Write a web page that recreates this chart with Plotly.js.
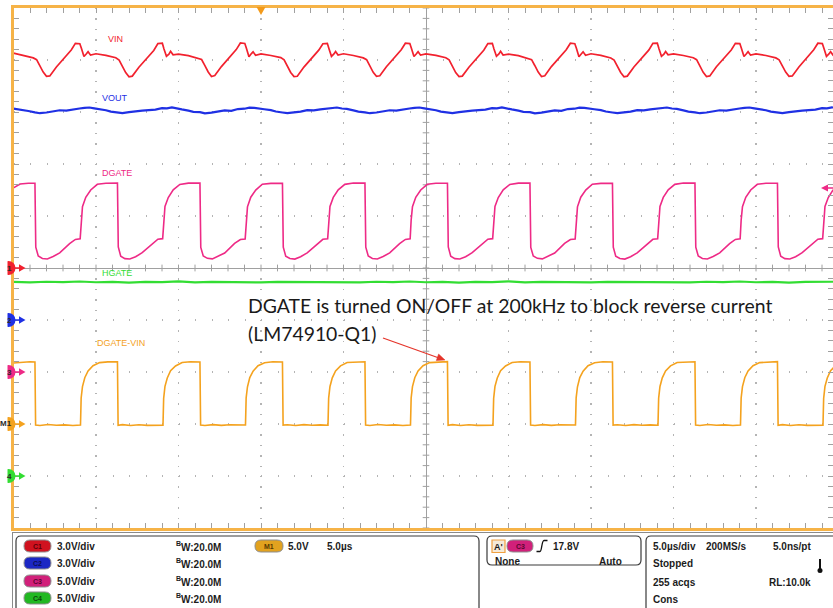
<!DOCTYPE html>
<html>
<head>
<meta charset="utf-8">
<script src="https://cdn.plot.ly/plotly-3.0.1.min.js"></script>
<style>html,body{margin:0;padding:0;background:#fff}#chart{width:833px;height:608px}</style>
</head>
<body>
<div id="chart"></div>
<script>
// ---------------- DATA (time in µs, values in volts) ----------------
const vinTime = [
-25.00,-24.40,
-23.80,-23.60,-23.40,-23.20,-23.00,-22.80,-22.40,-21.90,-21.50,-21.25,-20.98,-20.88,-20.73,-20.58,-20.48,-20.33,-20.00,-19.40,
-18.80,-18.60,-18.40,-18.20,-18.00,-17.80,-17.40,-16.90,-16.50,-16.25,-15.98,-15.88,-15.73,-15.58,-15.48,-15.33,-15.00,-14.40,
-13.80,-13.60,-13.40,-13.20,-13.00,-12.80,-12.40,-11.90,-11.50,-11.25,-10.98,-10.88,-10.73,-10.58,-10.48,-10.33,-10.00,-9.40,
-8.80,-8.60,-8.40,-8.20,-8.00,-7.80,-7.40,-6.90,-6.50,-6.25,-5.98,-5.88,-5.73,-5.58,-5.48,-5.33,-5.00,-4.40,
-3.80,-3.60,-3.40,-3.20,-3.00,-2.80,-2.40,-1.90,-1.50,-1.25,-0.98,-0.88,-0.73,-0.58,-0.48,-0.33,0.00,0.60,
1.20,1.40,1.60,1.80,2.00,2.20,2.60,3.10,3.50,3.75,4.02,4.12,4.27,4.42,4.52,4.67,5.00,5.60,
6.20,6.40,6.60,6.80,7.00,7.20,7.60,8.10,8.50,8.75,9.02,9.12,9.27,9.42,9.52,9.67,10.00,10.60,
11.20,11.40,11.60,11.80,12.00,12.20,12.60,13.10,13.50,13.75,14.02,14.12,14.27,14.42,14.52,14.67,15.00,15.60,
16.20,16.40,16.60,16.80,17.00,17.20,17.60,18.10,18.50,18.75,19.02,19.12,19.27,19.42,19.52,19.67,20.00,20.60,
21.20,21.40,21.60,21.80,22.00,22.20,22.60,23.10,23.50,23.75,24.02,24.12,24.27,24.42,24.52,24.67,24.80];
const vinVolts = [
12.40,12.28,
12.12,12.02,11.66,11.30,11.06,11.08,11.60,12.12,12.58,12.96,12.94,12.66,12.20,12.36,12.48,12.28,12.36,12.27,
12.13,12.00,11.62,11.27,11.03,11.07,11.58,12.10,12.55,12.95,12.97,12.64,12.22,12.34,12.50,12.30,12.34,12.25,
12.11,12.03,11.68,11.31,11.05,11.10,11.62,12.14,12.60,12.98,12.95,12.67,12.19,12.37,12.47,12.27,12.35,12.26,
12.14,12.01,11.64,11.28,11.04,11.06,11.59,12.11,12.57,12.94,12.96,12.65,12.21,12.35,12.49,12.29,12.36,12.26,
12.12,12.02,11.66,11.29,11.06,11.09,11.61,12.13,12.59,12.97,12.95,12.66,12.20,12.36,12.48,12.28,12.35,12.27,
12.13,12.01,11.63,11.27,11.04,11.07,11.58,12.10,12.56,12.95,12.96,12.64,12.22,12.35,12.50,12.29,12.34,12.25,
12.11,12.02,11.67,11.30,11.05,11.09,11.62,12.13,12.59,12.97,12.94,12.67,12.19,12.36,12.47,12.27,12.36,12.27,
12.12,12.00,11.64,11.28,11.03,11.07,11.60,12.12,12.57,12.96,12.97,12.65,12.21,12.34,12.49,12.30,12.35,12.26,
12.13,12.02,11.65,11.29,11.05,11.08,11.61,12.12,12.58,12.96,12.95,12.66,12.20,12.36,12.48,12.28,12.35,12.26,
12.12,12.01,11.66,11.30,11.06,11.08,11.60,12.13,12.59,12.97,12.95,12.66,12.21,12.35,12.48,12.28,12.32];

const voutTime = [
-25.00,-24.60,-24.10,
-23.70,-23.40,-23.00,-22.60,-22.20,-21.80,-21.40,-21.00,-20.70,-20.40,-20.10,-19.80,-19.40,-19.10,
-18.70,-18.40,-18.00,-17.60,-17.20,-16.80,-16.40,-16.00,-15.70,-15.40,-15.10,-14.80,-14.40,-14.10,
-13.70,-13.40,-13.00,-12.60,-12.20,-11.80,-11.40,-11.00,-10.70,-10.40,-10.10,-9.80,-9.40,-9.10,
-8.70,-8.40,-8.00,-7.60,-7.20,-6.80,-6.40,-6.00,-5.70,-5.40,-5.10,-4.80,-4.40,-4.10,
-3.70,-3.40,-3.00,-2.60,-2.20,-1.80,-1.40,-1.00,-0.70,-0.40,-0.10,0.20,0.60,0.90,
1.30,1.60,2.00,2.40,2.80,3.20,3.60,4.00,4.30,4.60,4.90,5.20,5.60,5.90,
6.30,6.60,7.00,7.40,7.80,8.20,8.60,9.00,9.30,9.60,9.90,10.20,10.60,10.90,
11.30,11.60,12.00,12.40,12.80,13.20,13.60,14.00,14.30,14.60,14.90,15.20,15.60,15.90,
16.30,16.60,17.00,17.40,17.80,18.20,18.60,19.00,19.30,19.60,19.90,20.20,20.60,20.90,
21.30,21.60,22.00,22.40,22.80,23.20,23.60,24.00,24.30,24.60,24.80];
const voutVolts = [
12.19,12.15,12.06,
11.98,11.93,11.97,12.03,12.10,12.08,12.16,12.20,12.24,12.26,12.21,12.17,12.10,12.02,
11.96,11.94,11.99,12.05,12.08,12.11,12.14,12.22,12.21,12.27,12.19,12.15,12.08,12.01,
11.99,11.92,11.96,12.04,12.09,12.07,12.17,12.19,12.25,12.24,12.22,12.16,12.11,12.03,
11.97,11.93,11.98,12.02,12.11,12.09,12.15,12.21,12.23,12.26,12.20,12.18,12.09,12.02,
11.98,11.93,11.97,12.03,12.10,12.08,12.16,12.20,12.24,12.26,12.21,12.17,12.10,12.02,
11.96,11.94,11.99,12.05,12.08,12.11,12.14,12.22,12.21,12.27,12.19,12.15,12.08,12.01,
11.99,11.92,11.96,12.04,12.09,12.07,12.17,12.19,12.25,12.24,12.22,12.16,12.11,12.03,
11.97,11.93,11.98,12.02,12.11,12.09,12.15,12.21,12.23,12.26,12.20,12.18,12.09,12.02,
11.98,11.93,11.97,12.03,12.10,12.08,12.16,12.20,12.24,12.26,12.21,12.17,12.10,12.02,
11.96,11.94,11.99,12.05,12.08,12.11,12.14,12.22,12.21,12.27,12.24];

const dgateTime = [
-25.00,-24.60,-24.10,
-23.70,-23.65,-23.50,-23.25,-22.95,-22.60,-22.20,-21.60,-21.25,-20.96,-20.90,-20.82,-20.62,-20.32,-19.92,-19.40,
-18.70,-18.65,-18.50,-18.25,-17.95,-17.60,-17.20,-16.60,-16.25,-15.96,-15.90,-15.82,-15.62,-15.32,-14.92,-14.40,
-13.70,-13.65,-13.50,-13.25,-12.95,-12.60,-12.20,-11.60,-11.25,-10.96,-10.90,-10.82,-10.62,-10.32,-9.92,-9.40,
-8.70,-8.65,-8.50,-8.25,-7.95,-7.60,-7.20,-6.60,-6.25,-5.96,-5.90,-5.82,-5.62,-5.32,-4.92,-4.40,
-3.70,-3.65,-3.50,-3.25,-2.95,-2.60,-2.20,-1.60,-1.25,-0.96,-0.90,-0.82,-0.62,-0.32,0.08,0.60,
1.30,1.35,1.50,1.75,2.05,2.40,2.80,3.40,3.75,4.04,4.10,4.18,4.38,4.68,5.08,5.60,
6.30,6.35,6.50,6.75,7.05,7.40,7.80,8.40,8.75,9.04,9.10,9.18,9.38,9.68,10.08,10.60,
11.30,11.35,11.50,11.75,12.05,12.40,12.80,13.40,13.75,14.04,14.10,14.18,14.38,14.68,15.08,15.60,
16.30,16.35,16.50,16.75,17.05,17.40,17.80,18.40,18.75,19.04,19.10,19.18,19.38,19.68,20.08,20.60,
21.30,21.35,21.50,21.75,22.05,22.40,22.80,23.40,23.75,24.04,24.10,24.18,24.38,24.68];
const dgateVolts = [
17.70,18.08,18.15,
18.15,12.00,11.15,10.92,10.87,11.10,11.45,12.35,12.75,12.80,14.60,15.90,16.80,17.50,18.05,18.15,
18.17,12.02,11.13,10.90,10.86,11.08,11.47,12.33,12.77,12.82,14.55,15.92,16.78,17.52,18.03,18.16,
18.16,11.98,11.16,10.93,10.88,11.11,11.44,12.36,12.74,12.79,14.62,15.88,16.81,17.49,18.06,18.14,
18.15,12.01,11.14,10.91,10.86,11.09,11.46,12.34,12.76,12.81,14.58,15.91,16.79,17.51,18.04,18.17,
18.16,12.00,11.15,10.92,10.87,11.10,11.45,12.35,12.75,12.80,14.60,15.90,16.80,17.50,18.05,18.15,
18.15,12.02,11.13,10.90,10.86,11.08,11.47,12.33,12.77,12.82,14.55,15.92,16.78,17.52,18.03,18.16,
18.16,11.98,11.16,10.93,10.88,11.11,11.44,12.36,12.74,12.79,14.62,15.88,16.81,17.49,18.06,18.14,
18.15,12.01,11.14,10.91,10.86,11.09,11.46,12.34,12.76,12.81,14.58,15.91,16.79,17.51,18.04,18.17,
18.16,12.00,11.15,10.92,10.87,11.10,11.45,12.35,12.75,12.80,14.60,15.90,16.80,17.50,18.05,18.15,
18.15,12.02,11.13,10.90,10.86,11.08,11.47,12.33,12.77,12.82,14.55,15.92,16.78,17.52];

const hgateTime = [-25,-24,-23,-22,-21,-20,-19,-18,-17,-16,-15,-14,-13,-12,-11,-10,-9,-8,-7,-6,-5,-4,-3,-2,-1,
0,1,2,3,4,5,6,7,8,9,10,11,12,13,14,15,16,17,18,19,20,21,22,23,24,24.7];
const hgateVolts = [18.66,18.62,18.68,18.64,18.70,18.63,18.66,18.60,18.67,18.65,18.71,18.62,18.66,18.64,18.69,18.61,18.67,18.65,18.70,18.63,18.66,18.62,18.68,18.64,18.70,
18.63,18.66,18.60,18.67,18.65,18.71,18.62,18.66,18.64,18.69,18.61,18.67,18.65,18.70,18.63,18.66,18.62,18.68,18.64,18.70,18.63,18.66,18.60,18.67,18.65,18.68];

const mathTime = [
-25.00,-24.50,-24.00,
-23.70,-23.66,-23.40,-22.90,-22.40,-21.90,-21.40,-20.94,-20.90,-20.82,-20.68,-20.48,-20.18,-19.78,-19.28,
-18.70,-18.66,-18.40,-17.90,-17.40,-16.90,-16.40,-15.94,-15.90,-15.82,-15.68,-15.48,-15.18,-14.78,-14.28,
-13.70,-13.66,-13.40,-12.90,-12.40,-11.90,-11.40,-10.94,-10.90,-10.82,-10.68,-10.48,-10.18,-9.78,-9.28,
-8.70,-8.66,-8.40,-7.90,-7.40,-6.90,-6.40,-5.94,-5.90,-5.82,-5.68,-5.48,-5.18,-4.78,-4.28,
-3.70,-3.66,-3.40,-2.90,-2.40,-1.90,-1.40,-0.94,-0.90,-0.82,-0.68,-0.48,-0.18,0.22,0.72,
1.30,1.34,1.60,2.10,2.60,3.10,3.60,4.06,4.10,4.18,4.32,4.52,4.82,5.22,5.72,
6.30,6.34,6.60,7.10,7.60,8.10,8.60,9.06,9.10,9.18,9.32,9.52,9.82,10.22,10.72,
11.30,11.34,11.60,12.10,12.60,13.10,13.60,14.06,14.10,14.18,14.32,14.52,14.82,15.22,15.72,
16.30,16.34,16.60,17.10,17.60,18.10,18.60,19.06,19.10,19.18,19.32,19.52,19.82,20.22,20.72,
21.30,21.34,21.60,22.10,22.60,23.10,23.60,24.06,24.10,24.18,24.32,24.52,24.72];
const mathVolts = [
5.87,5.95,5.98,
5.96,-0.10,-0.15,-0.05,-0.12,-0.08,-0.14,-0.10,2.50,3.60,4.45,5.10,5.60,5.90,5.97,
5.98,-0.12,-0.06,-0.14,-0.07,-0.13,-0.09,-0.11,2.45,3.62,4.43,5.12,5.58,5.91,5.99,
5.97,-0.09,-0.14,-0.06,-0.13,-0.07,-0.12,-0.10,2.52,3.58,4.47,5.08,5.61,5.89,5.98,
5.96,-0.11,-0.07,-0.15,-0.06,-0.12,-0.08,-0.12,2.48,3.61,4.44,5.11,5.59,5.92,5.97,
5.98,-0.10,-0.15,-0.05,-0.12,-0.08,-0.14,-0.10,2.50,3.60,4.45,5.10,5.60,5.90,5.97,
5.99,-0.12,-0.06,-0.14,-0.07,-0.13,-0.09,-0.11,2.45,3.62,4.43,5.12,5.58,5.91,5.99,
5.97,-0.09,-0.14,-0.06,-0.13,-0.07,-0.12,-0.10,2.52,3.58,4.47,5.08,5.61,5.89,5.98,
5.96,-0.11,-0.07,-0.15,-0.06,-0.12,-0.08,-0.12,2.48,3.61,4.44,5.11,5.59,5.92,5.97,
5.98,-0.10,-0.15,-0.05,-0.12,-0.08,-0.14,-0.10,2.50,3.60,4.45,5.10,5.60,5.90,5.97,
5.99,-0.12,-0.06,-0.14,-0.07,-0.13,-0.09,-0.11,2.45,3.62,4.43,5.12,5.45];

const traceNames = ['VIN','VOUT','DGATE','HGATE','DGATE-VIN'];
const noteLine1 = 'DGATE is turned ON/OFF at 200kHz to block reverse current';
const noteLine2 = '(LM74910-Q1)';
const chanTags = ['C1','C2','C3','C4'];
const chanScaleText = ['3.0V/div','3.0V/div','5.0V/div','5.0V/div'];
const bwText = ['W:20.0M','W:20.0M','W:20.0M','W:20.0M'];
const mathTag = 'M1', mathScaleText = '5.0V', mathTimeText = '5.0µs';
const trigText = ['17.8V','None','Auto'];
const acqText = ['5.0µs/div','200MS/s','5.0ns/pt','Stopped','255 acqs','RL:10.0k','Cons'];

// ---------------- SCOPE SETTINGS ----------------
const voltsPerDiv = {VIN:3, VOUT:3, DGATE:5, HGATE:5, MATH:5};
const groundDiv   = {VIN:0, VOUT:-1, DGATE:-2, HGATE:-4, MATH:-3};
const usPerDiv = 5;

// ---------------- STYLE / LAYOUT ----------------
const W = 833, H = 608;
const col = {VIN:'#f2212e', VOUT:'#1f30e4', DGATE:'#ee2a86', HGATE:'#33dd33', MATH:'#f4a21e'};
const chanRange = k => [(-5 - groundDiv[k]) * voltsPerDiv[k], (5 - groundDiv[k]) * voltsPerDiv[k]];
const PX = x => x / W, PY = y => 1 - y / H;
const P = (x, y) => (x / W).toFixed(5) + ',' + (1 - y / H).toFixed(5);
function rr(x0, y0, x1, y1, r) {
  return 'M' + P(x0 + r, y0) + ' L' + P(x1 - r, y0) + ' Q' + P(x1, y0) + ' ' + P(x1, y0 + r) +
    ' L' + P(x1, y1 - r) + ' Q' + P(x1, y1) + ' ' + P(x1 - r, y1) + ' L' + P(x0 + r, y1) +
    ' Q' + P(x0, y1) + ' ' + P(x0, y1 - r) + ' L' + P(x0, y0 + r) + ' Q' + P(x0, y0) + ' ' + P(x0 + r, y0) + ' Z';
}

const traces = [
  {x: [], y: [], xaxis: 'x', yaxis: 'y', type: 'scatter', mode: 'lines', hoverinfo: 'skip'},
  {x: vinTime, y: vinVolts, name: traceNames[0], xaxis: 'x', yaxis: 'y2', type: 'scatter', mode: 'lines', line: {color: col.VIN, width: 1.7}},
  {x: voutTime, y: voutVolts, name: traceNames[1], xaxis: 'x', yaxis: 'y3', type: 'scatter', mode: 'lines', line: {color: col.VOUT, width: 2.2}},
  {x: dgateTime, y: dgateVolts, name: traceNames[2], xaxis: 'x', yaxis: 'y4', type: 'scatter', mode: 'lines', line: {color: col.DGATE, width: 1.6}},
  {x: hgateTime, y: hgateVolts, name: traceNames[3], xaxis: 'x', yaxis: 'y5', type: 'scatter', mode: 'lines', line: {color: col.HGATE, width: 2.2}},
  {x: mathTime, y: mathVolts, name: traceNames[4], xaxis: 'x', yaxis: 'y6', type: 'scatter', mode: 'lines', line: {color: col.MATH, width: 1.6}}
];

const border = '#f6b347', tickC = '#a0a0a0', gridC = '#b4b4b4';
const hidden = {overlaying: 'y', visible: false, fixedrange: true};
const layout = {
  width: W, height: H, margin: {l: 0, r: 0, t: 0, b: 0},
  paper_bgcolor: '#ffffff', plot_bgcolor: '#ffffff', showlegend: false,
  font: {family: 'Liberation Sans, Arial, sans-serif', color: '#1a1a1a'},
  xaxis: {domain: [13.5 / W, 1], range: [-5 * usPerDiv, (833 - 426) / 16.5], fixedrange: true,
    showgrid: true, dtick: usPerDiv, tick0: 0, gridcolor: gridC, gridwidth: 1.4, griddash: '1.4px,9px',
    zeroline: true, zerolinecolor: tickC, zerolinewidth: 1,
    showline: true, linecolor: border, linewidth: 3, mirror: 'ticks',
    ticks: 'inside', ticklen: 5, tickcolor: tickC, tickwidth: 1, showticklabels: false,
    minor: {dtick: 1, tick0: 0, ticks: 'inside', ticklen: 5, tickcolor: tickC, tickwidth: 1, showgrid: false}},
  yaxis: {domain: [80 / H, 600 / H], range: [-5, 5], fixedrange: true,
    showgrid: true, dtick: 1, tick0: 0, gridcolor: gridC, gridwidth: 1.4, griddash: '1.4px,15.1px',
    zeroline: true, zerolinecolor: tickC, zerolinewidth: 1,
    showline: true, linecolor: border, linewidth: 3, mirror: 'ticks',
    ticks: 'inside', ticklen: 5, tickcolor: tickC, tickwidth: 1, showticklabels: false,
    minor: {dtick: 0.2, tick0: 0, ticks: 'inside', ticklen: 5, tickcolor: tickC, tickwidth: 1, showgrid: false}},
  yaxis2: Object.assign({range: chanRange('VIN')}, hidden),
  yaxis3: Object.assign({range: chanRange('VOUT')}, hidden),
  yaxis4: Object.assign({range: chanRange('DGATE')}, hidden),
  yaxis5: Object.assign({range: chanRange('HGATE')}, hidden),
  yaxis6: Object.assign({range: chanRange('MATH')}, hidden),
  shapes: [], annotations: []
};

const S = layout.shapes, A = layout.annotations;
// centre-cross tick marks
for (let i = 0; i <= 50; i++) {
  const d = -5 + 0.2 * i;
  S.push({type: 'line', xref: 'x', yref: 'y', x0: -0.2, x1: 0.2, y0: d, y1: d, line: {color: tickC, width: 1}, layer: 'between'});
}
for (let i = 0; i < 50; i++) {
  const t = -25 + i;
  S.push({type: 'line', xref: 'x', yref: 'y', x0: t, x1: t, y0: -0.065, y1: 0.065, line: {color: tickC, width: 1}, layer: 'between'});
}
// trigger position marker (top) and trigger level arrow (right)
S.push({type: 'path', xref: 'paper', yref: 'paper', path: 'M' + P(256.5, 7) + ' L' + P(265.5, 7) + ' L' + P(261, 15) + ' Z', fillcolor: '#f39a1a', line: {width: 0}, layer: 'above'});
S.push({type: 'path', xref: 'paper', yref: 'paper', path: 'M' + P(821, 188) + ' L' + P(828, 184.5) + ' L' + P(828, 191.5) + ' Z', fillcolor: col.DGATE, line: {width: 0}, layer: 'above'});
S.push({type: 'line', xref: 'paper', yref: 'paper', x0: PX(827), x1: PX(834), y0: PY(188), y1: PY(188), line: {color: col.DGATE, width: 1.5}, layer: 'above'});

// left channel markers
const markers = [
  {y: 268, c: col.VIN, t: '1'}, {y: 320, c: col.VOUT, t: '2'}, {y: 372, c: col.DGATE, t: '3'},
  {y: 424, c: col.MATH, t: 'M1'}, {y: 476, c: col.HGATE, t: '4'}];
markers.forEach(m => {
  S.push({type: 'circle', xref: 'paper', yref: 'paper', x0: PX(1.5), x1: PX(15.5), y0: PY(m.y + 7), y1: PY(m.y - 7), fillcolor: m.c, line: {width: 0}, layer: 'above'});
  S.push({type: 'line', xref: 'paper', yref: 'paper', x0: PX(15), x1: PX(21), y0: PY(m.y), y1: PY(m.y), line: {color: m.c, width: 1.5}, layer: 'above'});
  S.push({type: 'path', xref: 'paper', yref: 'paper', path: 'M' + P(19, m.y - 3.8) + ' L' + P(25.5, m.y) + ' L' + P(19, m.y + 3.8) + ' Z', fillcolor: m.c, line: {width: 0}, layer: 'above'});
});
S.push({type: 'rect', xref: 'paper', yref: 'paper', x0: 0, x1: PX(7.5), y0: PY(490), y1: PY(255), fillcolor: '#ffffff', line: {width: 0}, layer: 'above'});
markers.forEach(m => {
  A.push({text: m.t, xref: 'paper', yref: 'paper', x: PX(13.5), y: PY(m.y), xanchor: 'right', yanchor: 'middle', showarrow: false,
    font: {size: 8, color: '#2a2a2a', weight: 700}});
});

// trace labels
const labelPos = [[115.5, 39, col.VIN], [115, 98, col.VOUT], [117, 173, col.DGATE], [117, 273, col.HGATE], [120.5, 343, col.MATH]];
traceNames.forEach((n, i) => {
  A.push({text: n, xref: 'paper', yref: 'paper', x: PX(labelPos[i][0]), y: PY(labelPos[i][1]), xanchor: 'center', yanchor: 'middle',
    showarrow: false, font: {size: 9, color: labelPos[i][2]}});
});

// call-out note and arrow
A.push({text: noteLine1, xref: 'paper', yref: 'paper', x: PX(246), y: PY(305), xanchor: 'left', yanchor: 'middle', showarrow: false,
  font: {family: 'Lato, sans-serif', size: 19.4, color: '#1a1a1a'}});
A.push({text: noteLine2, xref: 'paper', yref: 'paper', x: PX(246), y: PY(333), xanchor: 'left', yanchor: 'middle', showarrow: false,
  font: {family: 'Lato, sans-serif', size: 19.4, color: '#1a1a1a'}});
const arrowC = '#e5352b';
S.push({type: 'line', xref: 'paper', yref: 'paper', x0: PX(383), y0: PY(338), x1: PX(439), y1: PY(358), line: {color: arrowC, width: 1.3}, layer: 'above'});
S.push({type: 'path', xref: 'paper', yref: 'paper', path: 'M' + P(445, 360) + ' L' + P(436.3, 360.6) + ' L' + P(438.6, 354.0) + ' Z', fillcolor: arrowC, line: {color: arrowC, width: 0.5}, layer: 'above'});

// ---------- bottom readout panel ----------
const frameC = '#3a3a3a';
S.push({type: 'line', xref: 'paper', yref: 'paper', x0: PX(12), x1: PX(840), y0: PY(532.5), y1: PY(532.5), line: {color: '#8a8a8a', width: 1}, layer: 'above'});
S.push({type: 'line', xref: 'paper', yref: 'paper', x0: PX(12.5), x1: PX(12.5), y0: PY(532), y1: PY(612), line: {color: '#8a8a8a', width: 1}, layer: 'above'});
S.push({type: 'path', xref: 'paper', yref: 'paper', path: rr(16, 536, 479, 620, 5), line: {color: frameC, width: 1.2}, layer: 'above'});
S.push({type: 'path', xref: 'paper', yref: 'paper', path: rr(487, 536, 641, 565, 5), line: {color: frameC, width: 1.2}, layer: 'above'});
S.push({type: 'path', xref: 'paper', yref: 'paper', path: rr(646, 536, 850, 620, 5), line: {color: frameC, width: 1.2}, layer: 'above'});

function pill(x0, x1, yc, fill, label, tcol) {
  S.push({type: 'path', xref: 'paper', yref: 'paper', path: rr(x0, yc - 6, x1, yc + 6, 6), fillcolor: fill, line: {color: '#8c8c8c', width: 1}, layer: 'above'});
  A.push({text: label, xref: 'paper', yref: 'paper', x: PX((x0 + x1) / 2), y: PY(yc), xanchor: 'center', yanchor: 'middle', showarrow: false,
    font: {size: 7, color: tcol, weight: 700}});
}
const rowY = [546, 563, 581, 598];
const pillFill = ['#d0121f', '#1b27c4', '#d1207a', '#22b822'];
const pillText = ['#5a0008', '#0a0f55', '#5a0530', '#0b4a0b'];
const bold = {size: 10, color: '#1c1c1c', weight: 700};
function label(text, x, y, anchor, font, pad) {
  A.push({text: text, xref: 'paper', yref: 'paper', x: PX(x), y: PY(y), xanchor: anchor || 'left', yanchor: 'middle', showarrow: false,
    font: font || bold, borderpad: pad === undefined ? 1 : pad});
}
chanTags.forEach((t, i) => {
  pill(24, 51, rowY[i], pillFill[i], t, pillText[i]);
  label(chanScaleText[i], 55, rowY[i]);
  label('B', 174.5, rowY[i] - 3, 'left', {size: 7, color: '#1c1c1c', weight: 700}, 0);
  label(bwText[i], 180, rowY[i] + 1, 'left', bold, 0);
});
pill(255, 283, 546, '#e2a21f', mathTag, '#5a3a00');
label(mathScaleText, 286, 546);
label(mathTimeText, 325, 546);

// trigger box
S.push({type: 'rect', xref: 'paper', yref: 'paper', x0: PX(492), x1: PX(505), y0: PY(552.5), y1: PY(540), fillcolor: '#f6ead8', line: {color: '#f0a040', width: 1.2}, layer: 'above'});
label("A'", 498.5, 546.5, 'center', {size: 9, color: '#1c1c1c', weight: 700});
pill(507, 533, 546, '#d1207a', 'C3', '#5a0530');
S.push({type: 'path', xref: 'paper', yref: 'paper', path: 'M' + P(536.5, 551.5) + ' L' + P(540, 551.5) + ' C' + P(542, 551.5) + ' ' + P(541.5, 540.5) + ' ' + P(544, 540.5) + ' L' + P(547.5, 540.5),
  line: {color: '#111', width: 1.3}, layer: 'above'});
label(trigText[0], 551, 546);
label(trigText[1], 493, 561);
label(trigText[2], 624, 561, 'right');

// acquisition box
label(acqText[0], 651, 546);
label(acqText[1], 704, 546);
label(acqText[2], 813, 546, 'right');
label(acqText[3], 651, 563);
label(acqText[4], 651, 582);
label(acqText[5], 767, 582);
label(acqText[6], 651, 599);
S.push({type: 'line', xref: 'paper', yref: 'paper', x0: PX(820), x1: PX(820), y0: PY(559), y1: PY(569), line: {color: '#111', width: 2}, layer: 'above'});
S.push({type: 'circle', xref: 'paper', yref: 'paper', x0: PX(817.5), x1: PX(822.5), y0: PY(573), y1: PY(568), fillcolor: '#111', line: {width: 0}, layer: 'above'});

Plotly.newPlot('chart', traces, layout, {staticPlot: true, displayModeBar: false});
</script>
</body>
</html>
